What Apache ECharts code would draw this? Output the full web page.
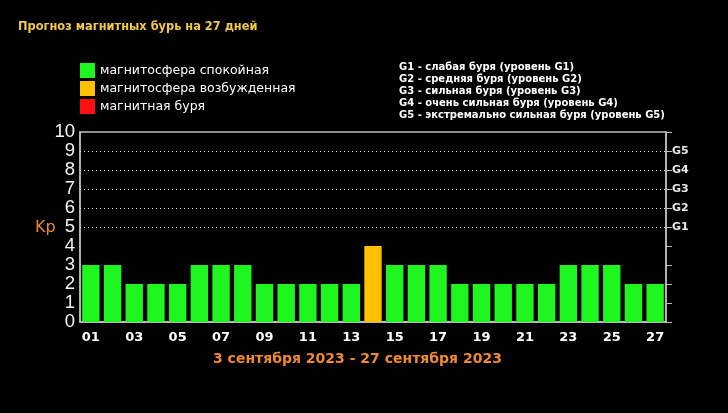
<!DOCTYPE html>
<html><head><meta charset="utf-8">
<script src="https://cdn.jsdelivr.net/npm/echarts@6/dist/echarts.min.js"></script>
<style>html,body{margin:0;padding:0;background:#000;}#c{width:728px;height:413px;}</style>
</head><body><div id="c"></div>
<script>
var days = ['01','02','03','04','05','06','07','08','09','10','11','12','13','14','15','16','17','18','19','20','21','22','23','24','25','26','27'];
var kpValues = [3,3,2,2,2,3,3,3,2,2,2,2,2,4,3,3,3,2,2,2,2,2,3,3,3,2,2];
var yTicks = [0,1,2,3,4,5,6,7,8,9,10];
var gLevels = {5:'G1',6:'G2',7:'G3',8:'G4',9:'G5'};
var legendNames = ['магнитосфера спокойная','магнитосфера возбужденная','магнитная буря'];
var gLegend = ['G1 - слабая буря (уровень G1)','G2 - средняя буря (уровень G2)','G3 - сильная буря (уровень G3)','G4 - очень сильная буря (уровень G4)','G5 - экстремально сильная буря (уровень G5)'];
var titleText = 'Прогноз магнитных бурь на 27 дней';
var periodText = '3 сентября 2023 - 27 сентября 2023';

var quiet = kpValues.map(function(v){return v<4?v:null;});
var active = kpValues.map(function(v){return v===4?v:null;});
var storm = kpValues.map(function(v){return v>=5?v:null;});

var chart = echarts.init(document.getElementById('c'));
var gridLines = [5,6,7,8,9].map(function(v){return {yAxis:v};});
chart.setOption({
  backgroundColor:'#000',
  animation:false,
  title:[
    {text:titleText,left:13,top:17,textStyle:{color:'#f2c94c',fontSize:11.4,fontWeight:'bold',fontFamily:'DejaVu Sans'}},
    {text:gLegend.join('\n'),left:394,top:57,textStyle:{color:'#fff',fontSize:10,fontWeight:'bold',fontFamily:'DejaVu Sans',lineHeight:11.8}},
    {text:periodText,left:208,top:347,textStyle:{color:'#f08a30',fontSize:14,fontWeight:'bold',fontFamily:'DejaVu Sans'}},
    {text:'Kp',left:30,top:215,textStyle:{color:'#e8893a',fontSize:16,fontWeight:'normal',fontFamily:'DejaVu Sans'}}
  ],
  legend:{orient:'vertical',left:75,top:58,icon:'rect',itemWidth:15,itemHeight:15,itemGap:3,
    textStyle:{color:'#fff',fontSize:12.5,fontFamily:'DejaVu Sans',padding:[0,0,0,0]},
    data:legendNames, selectedMode:false},
  grid:{left:80,right:62,top:132,bottom:91,show:true,borderColor:'#bdbdbd',borderWidth:1.5,backgroundColor:'transparent'},
  xAxis:[{type:'category',data:days,position:'bottom',
      axisLine:{lineStyle:{color:'#bdbdbd',width:1.5}},
      axisTick:{inside:true,length:4,lineStyle:{color:'#bdbdbd'}},
      axisLabel:{interval:1,color:'#fff',fontSize:13,fontWeight:'bold',fontFamily:'DejaVu Sans',margin:9},
      splitLine:{show:false}},
    {type:'category',data:days,position:'top',
      axisLine:{lineStyle:{color:'#bdbdbd',width:1.5}},
      axisTick:{inside:true,length:4,lineStyle:{color:'#bdbdbd'}},
      axisLabel:{show:false},splitLine:{show:false}}],
  yAxis:[{type:'value',min:0,max:10,interval:1,position:'left',
      axisLine:{show:true,lineStyle:{color:'#bdbdbd',width:1.5}},
      axisTick:{show:false},
      axisLabel:{color:'#f4f4f4',fontSize:18.5,fontFamily:'Liberation Sans',margin:5,
        formatter:function(v){return yTicks.indexOf(v)>=0?String(v):'';}},
      splitLine:{show:false}},
    {type:'value',min:0,max:10,interval:1,position:'right',
      axisLine:{show:true,lineStyle:{color:'#bdbdbd',width:1.5}},
      axisTick:{show:true,length:6,lineStyle:{color:'#bdbdbd'}},
      axisLabel:{color:'#e8e8e8',fontSize:11,fontWeight:'bold',fontFamily:'DejaVu Sans',margin:6,
        formatter:function(v){return gLevels[v]||'';}},
      splitLine:{show:false}}],
  series:[
    {name:legendNames[0],type:'bar',stack:'kp',data:quiet,barCategoryGap:'20%',itemStyle:{color:'#1ff51f'},
      markLine:{silent:true,symbol:'none',label:{show:false},lineStyle:{color:'#e0e0e0',type:[1,3],width:1},data:gridLines}},
    {name:legendNames[1],type:'bar',stack:'kp',data:active,itemStyle:{color:'#ffc000'}},
    {name:legendNames[2],type:'bar',stack:'kp',data:storm,itemStyle:{color:'#ff1010'}}
  ]
});
</script></body></html>
